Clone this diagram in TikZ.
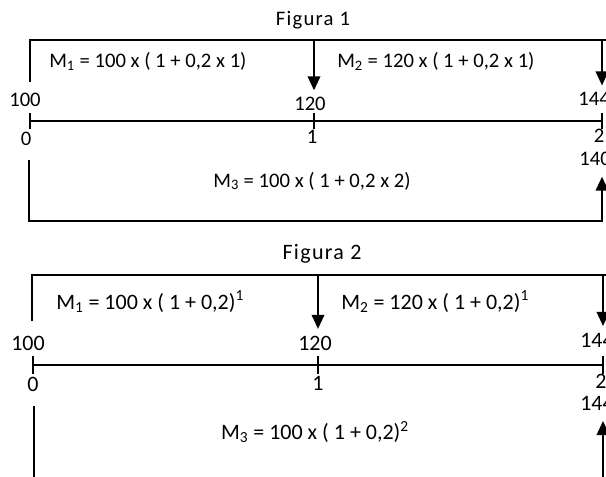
\documentclass[tikz,border=0pt]{standalone}
\usepackage{fontspec}
\setmainfont{Carlito}
\usetikzlibrary{arrows.meta}
\tikzset{
  lbl/.style={inner sep=0pt, font=\fontsize{15.5}{17}\selectfont},
  lbltwo/.style={inner sep=0pt, font=\fontsize{16.5}{18}\selectfont},
  ttl/.style={inner sep=0pt, font=\fontsize{15.5}{17}\selectfont\addfontfeature{LetterSpace=6}},
  brk/.style={line width=1.2pt},
  tip/.style={brk, -{Triangle[width=9.5pt,length=10.5pt]}},
  axis/.style={line width=1.6pt},
}
\begin{document}
\begin{tikzpicture}[x=0.75pt,y=-0.75pt]
\useasboundingbox (0,0) rectangle (606,477);
\clip (0,0) rectangle (606,477);
% Figura 1
\node[ttl] (t1) at (313,20) {Figura 1};
\coordinate (a) at (30,82);
\coordinate (b) at (30,40);
\coordinate (c) at (612,40);
\coordinate (m) at (314,40);
\coordinate (r) at (602,40);
\node[lbl, anchor=base west] (e1) at (49,68) {M\textsubscript{1} = 100 x ( 1 + 0,2 x 1)};
\node[lbl, anchor=base west] (e2) at (337,68) {M\textsubscript{2} = 120 x ( 1 + 0,2 x 1)};
\node[lbl] (v0) at (25,100) {100};
\node[lbl] (v1) at (310,104) {120};
\node[lbl] (v2) at (594,99) {144};
\draw[brk] (a) -- (b) -- (c);
\draw[tip] (m) -- ([yshift=5pt]v1.north -| m);
\draw[tip] (r) -- ([yshift=5pt]v2.north -| r);
\coordinate (x0) at (30,121);
\coordinate (x1) at (314,121);
\coordinate (x2) at (602,121);
\draw[axis] (x0) -- (x2);
\draw[axis] ([yshift=6pt]x0) -- ([yshift=-6pt]x0);
\draw[axis] ([yshift=6pt]x1) -- ([yshift=-6pt]x1);
\draw[axis] ([yshift=6pt]x2) -- ([yshift=-6pt]x2);
\node[lbl] (n0) at (26,139) {0};
\node[lbl] (n1) at (312,137) {1};
\node[lbl] (n2) at (599,136) {2};
\node[lbl] (w2) at (595,159) {140};
\node[lbl] (e3) at (312,181) {M\textsubscript{3} = 100 x ( 1 + 0,2 x 2)};
\coordinate (d) at (29,160);
\coordinate (f) at (602,221);
\draw[tip] (d) |- (f) -- ([yshift=-8pt]w2.south -| f);
% Figura 2
\node[ttl, font=\fontsize{16.5}{18}\selectfont\addfontfeature{LetterSpace=6}] (t2) at (322,254) {Figura 2};
\coordinate (g) at (32,321);
\coordinate (h) at (32,275);
\coordinate (k) at (612,275);
\coordinate (p) at (318,275);
\coordinate (q) at (603,275);
\node[lbltwo, anchor=base west] (s1) at (56,309) {M\textsubscript{1} = 100 x ( 1 + 0,2)\textsuperscript{1}};
\node[lbltwo, anchor=base west] (s2) at (341,309) {M\textsubscript{2} = 120 x ( 1 + 0,2)\textsuperscript{1}};
\node[lbltwo] (u0) at (28,343) {100};
\node[lbltwo] (u1) at (315,343) {120};
\node[lbltwo] (u2) at (597,340) {144};
\draw[brk] (g) -- (h) -- (k);
\draw[tip] (p) -- ([yshift=5pt]u1.north -| p);
\draw[tip] (q) -- ([yshift=5pt]u2.north -| q);
\coordinate (y0) at (33,365);
\coordinate (y1) at (318,365);
\coordinate (y2) at (603,365);
\draw[axis] (y0) -- (y2);
\draw[axis] ([yshift=7pt]y0) -- ([yshift=-7pt]y0);
\draw[axis] ([yshift=7pt]y1) -- ([yshift=-7pt]y1);
\draw[axis] ([yshift=7pt]y2) -- ([yshift=-7pt]y2);
\node[lbltwo] (o0) at (33,384) {0};
\node[lbltwo] (o1) at (318,383) {1};
\node[lbltwo] (o2) at (601,381) {2};
\node[lbltwo] (z2) at (597,403) {144};
\node[lbltwo] (s3) at (315,432) {M\textsubscript{3} = 100 x ( 1 + 0,2)\textsuperscript{2}};
\coordinate (i) at (34,406);
\coordinate (j) at (34,490);
\coordinate (l) at (603,490);
\draw[brk] (i) -- (j);
\draw[tip] (l) -- ([yshift=-8pt]z2.south -| l);
\end{tikzpicture}
\end{document}
